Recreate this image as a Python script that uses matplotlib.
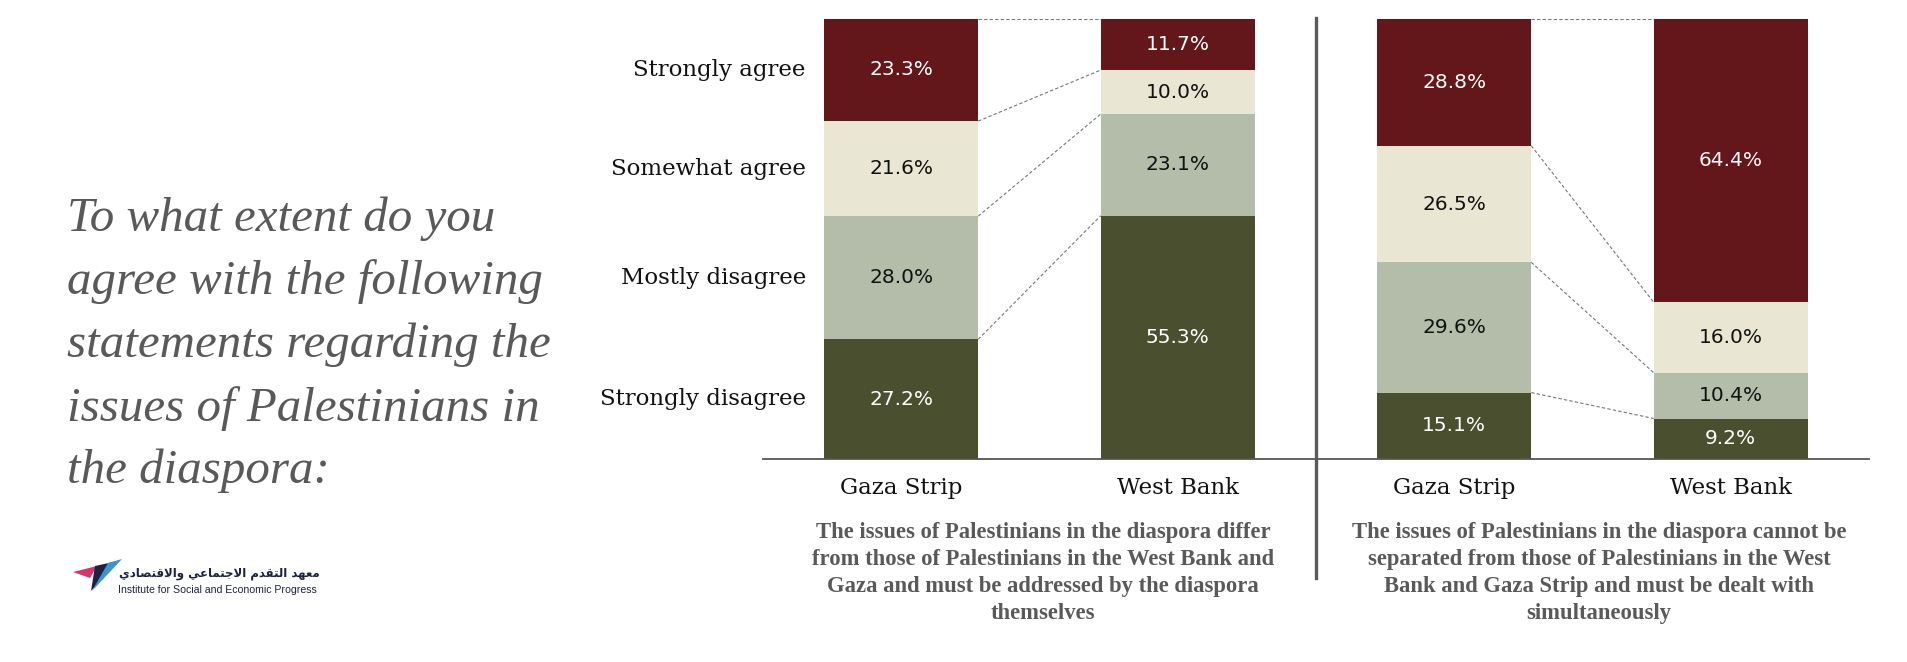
import matplotlib.pyplot as plt
from matplotlib.patches import Polygon

# ---- data ----
groups = ["Gaza Strip", "West Bank", "Gaza Strip", "West Bank"]
categories = ["Strongly disagree", "Mostly disagree", "Somewhat agree", "Strongly agree"]
strongly_disagree = [27.2, 55.3, 15.1, 9.2]
mostly_disagree = [28.0, 23.1, 29.6, 10.4]
somewhat_agree = [21.6, 10.0, 26.5, 16.0]
strongly_agree = [23.3, 11.7, 28.8, 64.4]
statements = [
    "The issues of Palestinians in the diaspora differ\nfrom those of Palestinians in the West Bank and\nGaza and must be addressed by the diaspora\nthemselves",
    "The issues of Palestinians in the diaspora cannot be\nseparated from those of Palestinians in the West\nBank and Gaza Strip and must be dealt with\nsimultaneously",
]
question = ("To what extent do you\nagree with the following\nstatements regarding the\n"
            "issues of Palestinians in\nthe diaspora:")

colors = ["#4a4f2f", "#b3bdaa", "#e9e7d3", "#63171a"]
text_colors = ["white", "#111111", "#111111", "white"]
series = [strongly_disagree, mostly_disagree, somewhat_agree, strongly_agree]

W, H = 1908, 662
fig = plt.figure(figsize=(W / 100, H / 100), dpi=100)
ax = fig.add_axes([763 / W, 203 / H, (1869 - 763) / W, 440 / H])

x = list(range(len(groups)))
width = 0.557
bottoms = [0.0] * len(groups)
tops = []
for vals, c, tc in zip(series, colors, text_colors):
    ax.bar(x, vals, width=width, bottom=bottoms, color=c, edgecolor="none", zorder=2)
    for xi, v, b in zip(x, vals, bottoms):
        ax.text(xi, b + v / 2, f"{v:.1f}%", ha="center", va="center",
                fontsize=14.5, color=tc, family="DejaVu Sans", zorder=3)
    bottoms = [b + v for b, v in zip(bottoms, vals)]
    tops.append(list(bottoms))

# dashed connectors between the two bars of each panel
for left, right in [(0, 1), (2, 3)]:
    for level in tops:
        ax.plot([left + width / 2, right - width / 2], [level[left], level[right]],
                ls=(0, (3, 2)), lw=0.8, color="#777777", zorder=1)

# category labels next to the first bar
for lvl, (name, vals) in enumerate(zip(categories, series)):
    base = tops[lvl][0] - vals[0]
    ax.text(-0.345, base + vals[0] / 2, name, ha="right", va="center",
            fontsize=16.5, family="DejaVu Serif", color="#111111")

# panel separator
ax.plot([1.5, 1.5], [100.3, -27.0], color="#5a5a5a", lw=2.4, clip_on=False, zorder=4)

ax.set_xlim(-0.5, 3.5)
ax.set_ylim(0, 100)
ax.set_xticks(x)
ax.set_xticklabels(groups, fontsize=16.5, family="DejaVu Serif", color="#111111")
ax.tick_params(axis="x", length=0, pad=13)
ax.set_yticks([])
for s in ["top", "left", "right"]:
    ax.spines[s].set_visible(False)
ax.spines["bottom"].set_color("#555555")
ax.spines["bottom"].set_linewidth(1.3)

# statements under each panel
for cx, txt in zip([1043, 1599], statements):
    fig.text(cx / W, 1 - 573 / H, txt, ha="center", va="center", multialignment="center",
             fontsize=16.3, fontweight="bold", family="Liberation Serif",
             color="#595959", linespacing=1.37)

# question
fig.text(67 / W, 1 - 345 / H, question, ha="left", va="center", fontsize=35.3,
         style="italic", family="Liberation Serif", color="#595959", linespacing=1.53)

# logo
logo = [
    ([(73, 572), (97, 566), (90, 578)], "#d8336b"),
    ([(95, 566), (118, 561), (91, 591)], "#1c2240"),
    ([(108, 563), (122, 559), (92, 591)], "#3b93cf"),
]
for pts, c in logo:
    fig.add_artist(Polygon([(px / W, 1 - py / H) for px, py in pts], closed=True,
                           transform=fig.transFigure, color=c, lw=0))
arabic = ("\uFEF1\uFEA9\uFE8E\uFEBC\uFE98\uFED7\uFEFB\uFE8D\uFEED "
          "\uFEF2\uFECB\uFE8E\uFEE4\uFE98\uFE9F\uFEFB\uFE8D "
          "\uFEE1\uFEAA\uFED8\uFE98\uFEDF\uFE8D "
          "\uFEAA\uFEEC\uFECC\uFEE3")
fig.text(320 / W, 1 - 574 / H, arabic, ha="right", va="center", fontsize=8.5,
         fontweight="bold", family="DejaVu Sans", color="#1c2240")
fig.text(118 / W, 1 - 590 / H, "Institute for Social and Economic Progress", ha="left",
         va="center", fontsize=7.6, family="Liberation Sans", color="#1c2240")

fig.savefig("out.png", dpi=100)
